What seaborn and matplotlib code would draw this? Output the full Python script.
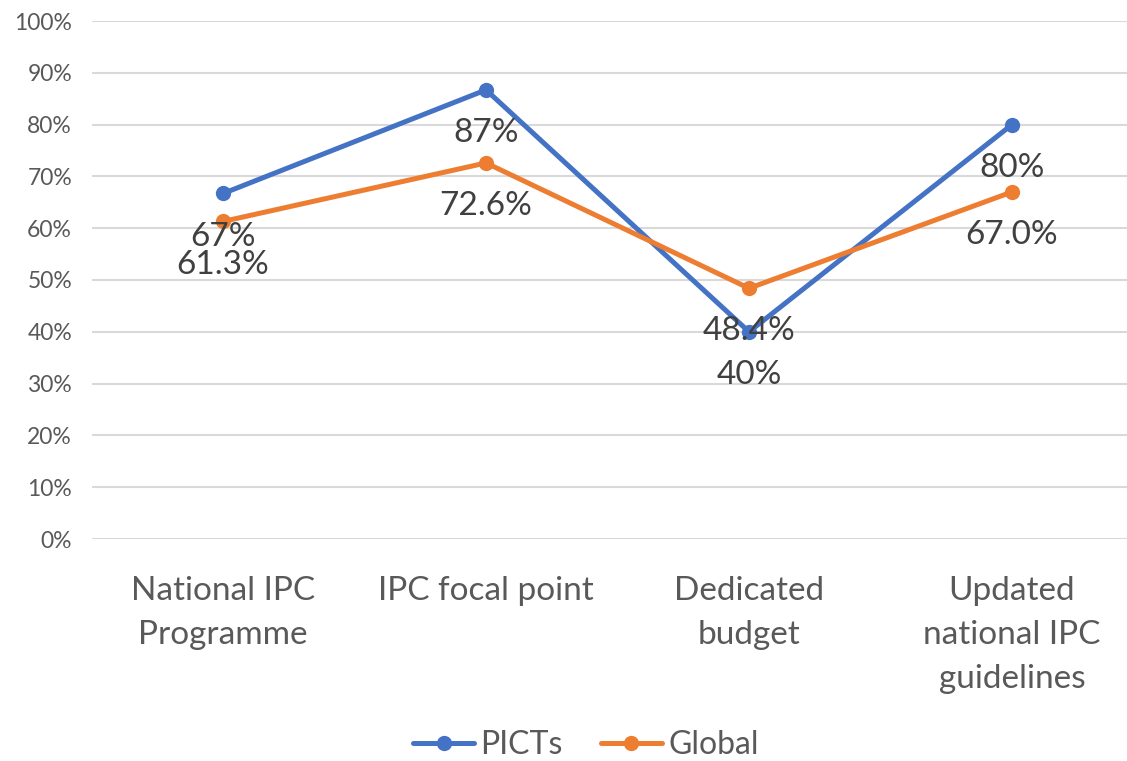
import matplotlib
matplotlib.use('Agg')
import matplotlib.pyplot as plt
import seaborn as sns
import pandas as pd

# chart data
categories = ["National IPC\nProgramme", "IPC focal point", "Dedicated\nbudget",
              "Updated\nnational IPC\nguidelines"]
picts = [66.7, 86.7, 40.0, 80.0]
picts_labels = ["67%", "87%", "40%", "80%"]
global_vals = [61.3, 72.6, 48.4, 67.0]
global_labels = ["61.3%", "72.6%", "48.4%", "67.0%"]
series_names = ["PICTs", "Global"]
colors = {"PICTs": "#4472C4", "Global": "#ED7D31"}

sns.set_theme(style="white")
plt.rcParams['font.family'] = ['Lato', 'DejaVu Sans']

df = pd.DataFrame({
    "pos": list(range(len(categories))) * 2,
    "value": picts + global_vals,
    "series": [series_names[0]] * 4 + [series_names[1]] * 4,
})

W, H = 1127, 761
fig = plt.figure(figsize=(W / 100, H / 100), dpi=100)
ax = fig.add_axes([91.5 / W, (H - 539) / H, 1052 / W, 518 / H])

sns.lineplot(data=df, x="pos", y="value", hue="series", palette=colors,
             marker="o", markersize=11, markeredgewidth=0, linewidth=3.6,
             ax=ax, legend=False, zorder=3)

ax.set_xlim(-0.5, len(categories) - 0.5)
ax.set_ylim(0, 100)
ax.set_yticks(range(0, 101, 10))
ax.set_yticklabels([f"{v}%" for v in range(0, 101, 10)], fontsize=16.5, color="#595959")
ax.set_xticks(range(len(categories)))
ax.set_xticklabels(categories, fontsize=24, color="#595959", linespacing=1.58,
                   va="top")
ax.tick_params(axis="x", length=0, pad=27)
ax.tick_params(axis="y", length=0, pad=14)
ax.set_xlabel("")
ax.set_ylabel("")
ax.grid(axis="y", color="#D9D9D9", linewidth=1.5, zorder=0)
for s in ax.spines.values():
    s.set_visible(False)

# data labels below the points
for vals, labs in [(picts, picts_labels), (global_vals, global_labels)]:
    for i, (v, lab) in enumerate(zip(vals, labs)):
        ax.annotate(lab, (i, v), xytext=(0, -31), textcoords="offset points",
                    ha="center", va="center", fontsize=24, color="#404040",
                    zorder=4)

handles = [plt.Line2D([], [], color=colors[n], marker="o", markersize=11,
                      markeredgewidth=0, linewidth=3.6) for n in series_names]
fig.legend(handles, series_names, loc="center", bbox_to_anchor=(0.52, (H - 745) / H),
           ncol=2, frameon=False, fontsize=23, handlelength=1.9,
           columnspacing=1.2, handletextpad=0.2, labelcolor="#595959")

fig.savefig("out.png", dpi=100)
